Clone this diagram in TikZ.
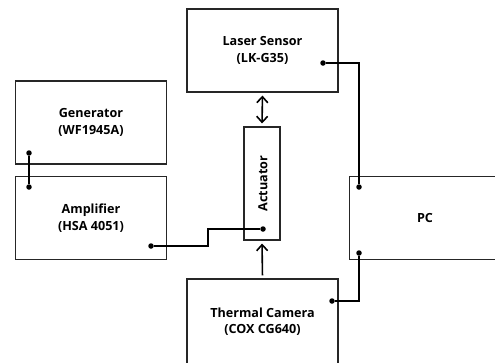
\documentclass[tikz,border=0pt]{standalone}
\usepackage{fontspec}
\setmainfont{Open Sans}
\usepackage{tikz}
\usetikzlibrary{calc, positioning, arrows.meta}
\definecolor{BoxLine}{HTML}{262626}

\begin{document}
\begin{tikzpicture}[
  x=1pt, y=-1pt,
  block/.style={rectangle, draw=BoxLine, line width=1.1pt, minimum width=151pt, minimum height=83pt, align=center, inner sep=0pt, font=\fontsize{12.6}{16.5}\selectfont\bfseries},
  wire/.style={line width=1.6pt, black},
  arrow/.style={line width=1.6pt, black, >={Straight Barb[length=6pt, width=11pt]}, shorten >=3pt, shorten <=3pt},
  pin/.style={circle, fill=black, inner sep=0pt, minimum size=5.5pt}
]
  \useasboundingbox (0,0) rectangle (495,362);

  \node[block] (gen) at (91,122.5) {Generator\\(WF1945A)};
  \node[block] (amp) at (91,218) {Amplifier\\(HSA 4051)};
  \node[block] (laser) at (262.5,50.5) {Laser Sensor\\(LK-G35)};
  \node[block, minimum width=36pt, minimum height=113pt] (act) at (262,183.5) {};
  \node[rotate=90, font=\fontsize{12.6}{16.5}\selectfont\bfseries] (actlabel) at (act.center) [yshift=-1pt] {Actuator};
  \node[block] (pc) at (425,218) {PC};
  \node[block, minimum height=85pt] (cam) at (262.5,321.5) {Thermal Camera\\(COX CG640)};

  % signal pins
  \node[pin] (genout) at (29,153) {};
  \node[pin] (ampin) at (29,187) {};
  \node[pin] (ampout) at (151,246) {};
  \node[pin] (actin) at (263,229) {};
  \node[pin] (laserout) at (323,63) {};
  \node[pin] (pcin1) at (359,187) {};
  \node[pin] (camout) at (332,301) {};
  \node[pin] (pcin2) at (359,253) {};

  \draw[wire] (genout) -- (ampin);
  \draw[wire] (ampout) -- ++(57,0) |- (actin);
  \draw[wire] (laserout) -| (pcin1);
  \draw[wire] (camout) -| (pcin2);

  \draw[arrow, <->] (laser.south) -- (act.north);
  \draw[arrow, ->] (cam.north) -- (act.south);
\end{tikzpicture}
\end{document}
